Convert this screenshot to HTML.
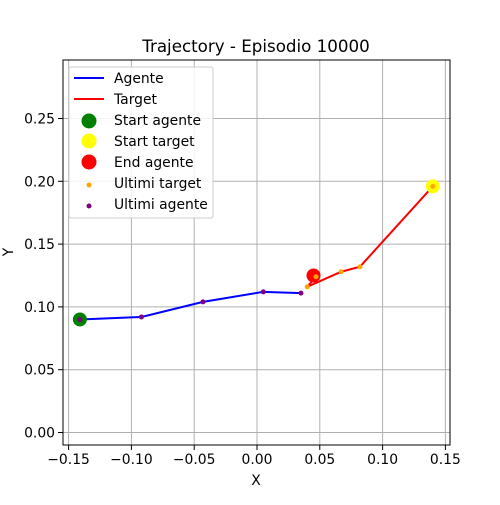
<!DOCTYPE html>
<html><head><meta charset="utf-8"><style>body{margin:0;background:#fff}svg text{font-family:"DejaVu Sans","Liberation Sans",sans-serif;}</style></head>
<body>
<svg id="chart" width="500" height="500" xmlns="http://www.w3.org/2000/svg">
<rect width="500" height="500" fill="#fff"/>
<g id="grid"></g><g id="marks"></g><g id="axes"></g>
<text x="256" y="52" font-size="16.7" text-anchor="middle">Trajectory - Episodio 10000</text>
<text x="256" y="485" font-size="13.9" text-anchor="middle">X</text>
<text x="13" y="252" font-size="13.9" text-anchor="middle" transform="rotate(-90 13 252)">Y</text>
<g>
<rect x="69" y="67" width="144" height="151" fill="#fff" fill-opacity="0.85" stroke="#ccc" rx="2"/>
<line x1="74" y1="78" x2="104" y2="78" stroke="blue" stroke-width="2"/><text x="114" y="83" font-size="13.9">Agente</text>
<line x1="74" y1="99" x2="104" y2="99" stroke="red" stroke-width="2"/><text x="114" y="104" font-size="13.9">Target</text>
<circle cx="89" cy="121" r="7.5" fill="green"/><text x="114" y="125" font-size="13.9">Start agente</text>
<circle cx="89" cy="141" r="7.5" fill="yellow"/><text x="114" y="146" font-size="13.9">Start target</text>
<circle cx="89" cy="162" r="7.5" fill="red"/><text x="114" y="167" font-size="13.9">End agente</text>
<circle cx="89" cy="185" r="2.5" fill="orange"/><text x="114" y="188" font-size="13.9">Ultimi target</text>
<circle cx="89" cy="206" r="2.5" fill="purple"/><text x="114" y="209" font-size="13.9">Ultimi agente</text>
</g>
</svg>
<script>
const agentX=[-0.141,-0.092,-0.043,0.005,0.035];
const agentY=[0.090,0.092,0.104,0.112,0.111];
const targetX=[0.140,0.082,0.067,0.040,0.047];
const targetY=[0.196,0.132,0.128,0.116,0.124];
const endAgent=[0.045,0.125];
const xTicks=[-0.15,-0.10,-0.05,0.00,0.05,0.10,0.15];
const yTicks=[0.00,0.05,0.10,0.15,0.20,0.25];
const L=63,R=450,T=60,B=445;
const sx=v=>257+v*1256, sy=v=>432.5-v*1256;
const NS="http://www.w3.org/2000/svg";
function mk(p,t,a){const e=document.createElementNS(NS,t);for(const k in a)e.setAttribute(k,a[k]);p.appendChild(e);return e;}
const g=document.getElementById('grid'),m=document.getElementById('marks'),ax=document.getElementById('axes');
xTicks.forEach(v=>{const x=sx(v);
const l=mk(g,'line',{x1:x,x2:x,y1:T,y2:B,stroke:'#b0b0b0','stroke-width':1});


mk(ax,'line',{x1:x,x2:x,y1:B,y2:B+5,stroke:'#000'});
const t=mk(ax,'text',{x:x,y:B+19,'font-size':13.9,'text-anchor':'middle'});t.textContent=v.toFixed(2).replace('-','\u2212');

});
yTicks.forEach(v=>{const y=sy(v);
const l=mk(g,'line',{x1:L,x2:R,y1:y,y2:y,stroke:'#b0b0b0','stroke-width':1});


mk(ax,'line',{x1:L-5,x2:L,y1:y,y2:y,stroke:'#000'});
const t=mk(ax,'text',{x:L-8,y:y+5,'font-size':13.9,'text-anchor':'end'});t.textContent=v.toFixed(2);

});
mk(ax,'rect',{x:L,y:T,width:R-L,height:B-T,fill:'none',stroke:'#000','stroke-width':1});
const ap=mk(m,'polyline',{points:agentX.map((x,i)=>sx(x)+','+sy(agentY[i])).join(' '),fill:'none',stroke:'blue','stroke-width':2});


const tp=mk(m,'polyline',{points:targetX.map((x,i)=>sx(x)+','+sy(targetY[i])).join(' '),fill:'none',stroke:'red','stroke-width':2});


let c=mk(m,'circle',{cx:sx(agentX[0]),cy:sy(agentY[0]),r:7,fill:'green'});


c=mk(m,'circle',{cx:sx(targetX[0]),cy:sy(targetY[0]),r:7,fill:'yellow'});


c=mk(m,'circle',{cx:sx(endAgent[0]),cy:sy(endAgent[1]),r:7,fill:'red'});


targetX.forEach((x,i)=>{const p=mk(m,'circle',{cx:sx(x),cy:sy(targetY[i]),r:2.5,fill:'orange'});

});
agentX.forEach((x,i)=>{const p=mk(m,'circle',{cx:sx(x),cy:sy(agentY[i]),r:2.5,fill:'purple'});

});
</script>
</body></html>
